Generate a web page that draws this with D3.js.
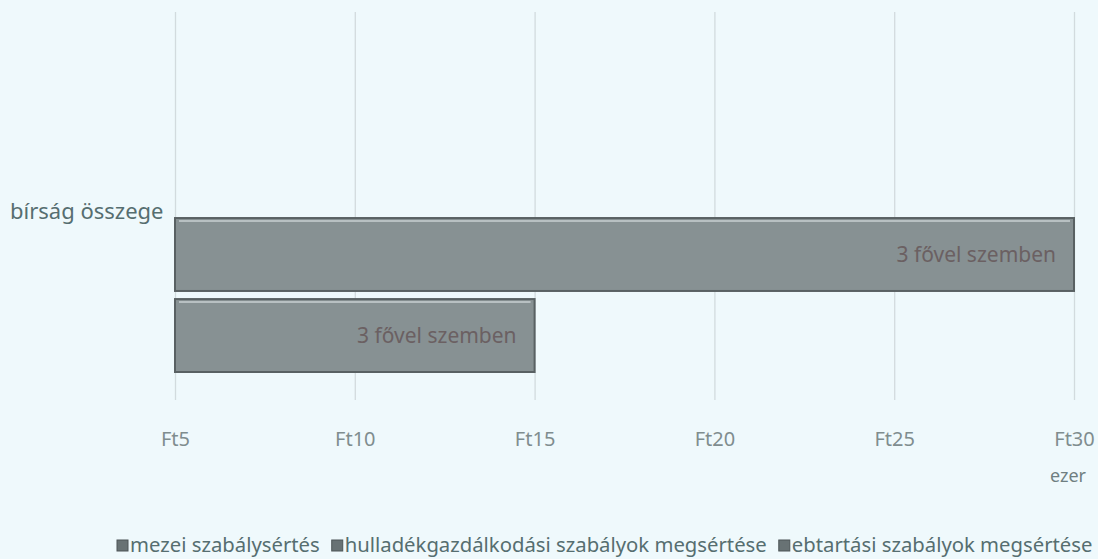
<!DOCTYPE html>
<html>
<head>
<meta charset="utf-8">
<script src="https://cdn.jsdelivr.net/npm/d3@7"></script>
<style>
  body { margin: 0; background: #eff9fc; }
  svg { display: block; }
</style>
</head>
<body>
<div id="chart"></div>
<script>
// data (thousand Ft)
var categories = ["bírság összege"];
var seriesNames = ["mezei szabálysértés", "hulladékgazdálkodási szabályok megsértése", "ebtartási szabályok megsértése"];
var seriesValues = [15, 30, null];
var barLabels = ["3 fővel szemben", "3 fővel szemben", ""];
var tickValues = [5, 10, 15, 20, 25, 30];
var unitLabel = "ezer";

var width = 1098, height = 559;
var font = "'Noto Sans', 'Open Sans', sans-serif";

var svg = d3.select("#chart")
    .append("svg")
    .attr("width", width)
    .attr("height", height);

svg.append("rect")
    .attr("width", width)
    .attr("height", height)
    .attr("fill", "#eff9fc");

var x = d3.scaleLinear().domain([5, 30]).range([175, 1074]);

// excel draws first series at bottom of the group
var y = d3.scaleBand()
    .domain(seriesNames.slice().reverse())
    .range([137, 372])
    .paddingInner(0.1)
    .paddingOuter(0);

// gridlines
var grid = svg.append("g")
    .attr("transform", "translate(0,400)")
    .call(d3.axisBottom(x).tickValues(tickValues).tickSize(-388).tickFormat(""));
grid.select(".domain").remove();
grid.selectAll("line").attr("stroke", "#d2dbde").attr("stroke-width", 1.3);

// bars
var data = seriesNames.map(function(s, i) {
    return { name: s, value: seriesValues[i], label: barLabels[i] };
}).filter(function(d) { return d.value != null; });

var bars = svg.selectAll("g.bar")
    .data(data)
    .enter()
    .append("g")
    .attr("class", "bar");

bars.append("rect")
    .attr("x", x(5))
    .attr("y", function(d) { return y(d.name); })
    .attr("width", function(d) { return x(d.value) - x(5); })
    .attr("height", y.bandwidth())
    .attr("fill", "#879193")
    .attr("stroke", "#596163")
    .attr("stroke-width", 2);

bars.append("line")
    .attr("x1", x(5) + 4)
    .attr("x2", function(d) { return x(d.value) - 4; })
    .attr("y1", function(d) { return y(d.name) + 3; })
    .attr("y2", function(d) { return y(d.name) + 3; })
    .attr("stroke", "#c9d0d2")
    .attr("stroke-width", 1.5);

// labels sit inside the bar end
bars.append("text")
    .text(function(d) { return d.label; })
    .attr("x", function(d) { return x(d.value) - 18; })
    .attr("y", function(d) { return y(d.name) + y.bandwidth() / 2 + 7; })
    .attr("text-anchor", "end")
    .style("font-family", font)
    .style("font-size", "21px")
    .style("fill", "#6b6062");

// category label
svg.append("text")
    .text(categories[0])
    .attr("x", 10)
    .attr("y", 219)
    .style("font-family", font)
    .style("font-size", "22px")
    .style("fill", "#566e70");

// x axis labels
var ax = svg.append("g")
    .attr("transform", "translate(0,429)")
    .call(d3.axisBottom(x).tickValues(tickValues).tickSize(0)
        .tickFormat(function(d) { return "Ft" + d; }));
ax.select(".domain").remove();
ax.selectAll("text")
    .style("font-family", font)
    .style("font-size", "20px")
    .style("fill", "#7f8d8f");

svg.append("text")
    .text(unitLabel)
    .attr("x", 1068)
    .attr("y", 482)
    .attr("text-anchor", "middle")
    .style("font-family", font)
    .style("font-size", "18px")
    .style("fill", "#6f7f81");

// legend
var legend = svg.append("g").attr("transform", "translate(0,552)");
var lx = 117;
seriesNames.forEach(function(s) {
    var g = legend.append("g").attr("transform", "translate(" + lx + ",0)");
    g.append("rect")
        .attr("x", 0).attr("y", -12)
        .attr("width", 11).attr("height", 11)
        .attr("fill", "#687274")
        .attr("stroke", "#4d5557");
    var t = g.append("text")
        .text(s)
        .attr("x", 13)
        .attr("y", 0)
        .style("font-family", font)
        .style("font-size", "20.3px")
        .style("fill", "#566e70");
    lx += 13 + t.node().getComputedTextLength() + 12;
});
</script>
</body>
</html>
